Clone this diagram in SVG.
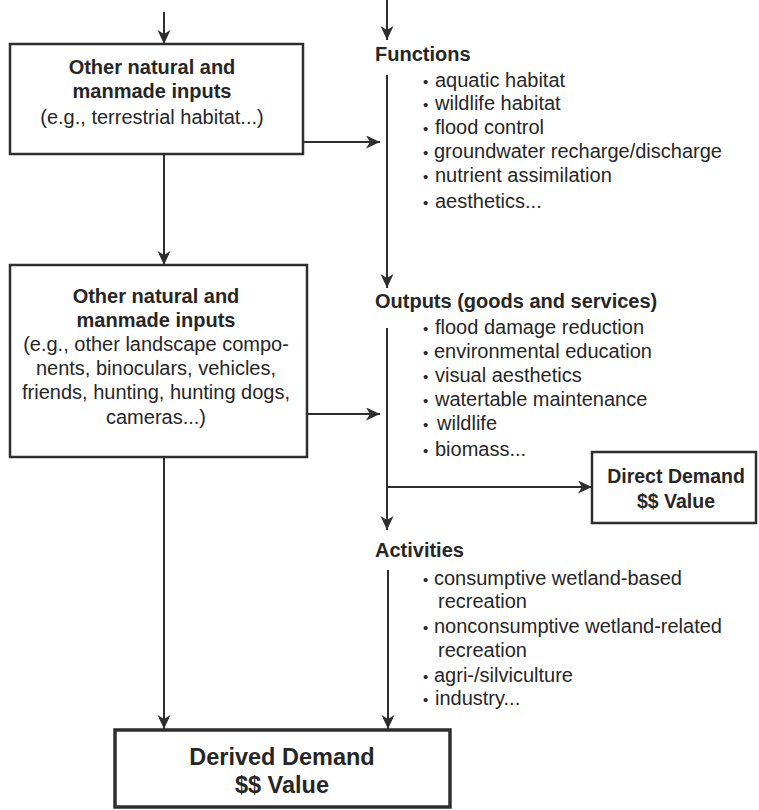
<svg xmlns="http://www.w3.org/2000/svg" width="759" height="810" viewBox="0 0 759 810">
<defs>
<marker id="ah" markerUnits="userSpaceOnUse" markerWidth="14" markerHeight="14" refX="14" refY="6.5" orient="auto">
<path d="M0,0 L14,6.5 L0,13 L4,6.5 z" fill="#2e2e2e"/>
</marker>
<style>
text{font-family:"Liberation Sans",Arial,sans-serif;fill:#262626;}
.b{font-weight:bold;font-size:20px;}
.r{font-size:20px;}
.big{font-weight:bold;font-size:23.5px;}
.dot{font-size:15px;}
.box{fill:#fff;stroke:#2e2e2e;stroke-width:2.5;}
.line{fill:none;stroke:#2e2e2e;stroke-width:2;}
</style>
</defs>
<rect width="759" height="810" fill="#ffffff"/>

<g id="connectors">
<path class="line" d="M164,12 V44" marker-end="url(#ah)"/>
<path class="line" d="M387,0 V40" marker-end="url(#ah)"/>
<path class="line" d="M303,142 H380" marker-end="url(#ah)"/>
<path class="line" d="M164,154 V265" marker-end="url(#ah)"/>
<path class="line" d="M387,75 V288" marker-end="url(#ah)"/>
<path class="line" d="M307,414 H380" marker-end="url(#ah)"/>
<path class="line" d="M387,328 V530" marker-end="url(#ah)"/>
<path class="line" d="M387,487 H592" marker-end="url(#ah)"/>
<path class="line" d="M164,457 V729" marker-end="url(#ah)"/>
<path class="line" d="M388,570 V729" marker-end="url(#ah)"/>
</g>

<g id="inputs1">
<rect class="box" x="10" y="44" width="293" height="110"/>
<text class="b" x="152" y="74" text-anchor="middle">Other natural and</text>
<text class="b" x="152" y="98" text-anchor="middle">manmade inputs</text>
<text class="r" x="152" y="124" text-anchor="middle">(e.g., terrestrial habitat...)</text>
</g>

<g id="inputs2">
<rect class="box" x="10" y="265" width="297" height="192"/>
<text class="b" x="156" y="303" text-anchor="middle">Other natural and</text>
<text class="b" x="156" y="327" text-anchor="middle">manmade inputs</text>
<text class="r" x="156" y="351" text-anchor="middle">(e.g., other landscape compo-</text>
<text class="r" x="156" y="375" text-anchor="middle">nents, binoculars, vehicles,</text>
<text class="r" x="156" y="399" text-anchor="middle">friends, hunting, hunting dogs,</text>
<text class="r" x="156" y="424" text-anchor="middle">cameras...)</text>
</g>

<g id="functions">
<text class="b" x="375" y="61">Functions</text>
<text class="r" x="423" y="87"><tspan class="dot">•</tspan><tspan x="435">aquatic habitat</tspan></text>
<text class="r" x="423" y="110"><tspan class="dot">•</tspan><tspan x="435">wildlife habitat</tspan></text>
<text class="r" x="423" y="134"><tspan class="dot">•</tspan><tspan x="435">flood control</tspan></text>
<text class="r" x="423" y="158"><tspan class="dot">•</tspan><tspan x="434">groundwater recharge/discharge</tspan></text>
<text class="r" x="423" y="182"><tspan class="dot">•</tspan><tspan x="435">nutrient assimilation</tspan></text>
<text class="r" x="423" y="208"><tspan class="dot">•</tspan><tspan x="435">aesthetics...</tspan></text>
</g>

<g id="outputs">
<text class="b" x="375" y="308">Outputs (goods and services)</text>
<text class="r" x="423" y="334"><tspan class="dot">•</tspan><tspan x="435">flood damage reduction</tspan></text>
<text class="r" x="423" y="358"><tspan class="dot">•</tspan><tspan x="434">environmental education</tspan></text>
<text class="r" x="423" y="382"><tspan class="dot">•</tspan><tspan x="435">visual aesthetics</tspan></text>
<text class="r" x="423" y="406"><tspan class="dot">•</tspan><tspan x="435">watertable maintenance</tspan></text>
<text class="r" x="423" y="430"><tspan class="dot">•</tspan><tspan x="437">wildlife</tspan></text>
<text class="r" x="423" y="456"><tspan class="dot">•</tspan><tspan x="435">biomass...</tspan></text>
</g>

<g id="direct">
<rect class="box" x="592" y="452" width="164" height="71"/>
<text class="b" x="676" y="483" text-anchor="middle" style="font-size:19.5px">Direct Demand</text>
<text class="b" x="676" y="508" text-anchor="middle" style="font-size:19.5px">$$ Value</text>
</g>

<g id="activities">
<text class="b" x="375" y="557">Activities</text>
<text class="r" x="423" y="585"><tspan class="dot">•</tspan><tspan x="434">consumptive wetland-based</tspan></text>
<text class="r" x="438" y="608">recreation</text>
<text class="r" x="423" y="633"><tspan class="dot">•</tspan><tspan x="434">nonconsumptive wetland-related</tspan></text>
<text class="r" x="438" y="657">recreation</text>
<text class="r" x="423" y="682"><tspan class="dot">•</tspan><tspan x="434">agri-/silviculture</tspan></text>
<text class="r" x="423" y="705"><tspan class="dot">•</tspan><tspan x="435">industry...</tspan></text>
</g>

<g id="derived">
<rect class="box" x="115" y="730" width="335" height="77" style="stroke-width:3.5"/>
<text class="big" x="282" y="765" text-anchor="middle">Derived Demand</text>
<text class="big" x="282" y="793" text-anchor="middle">$$ Value</text>
</g>
</svg>
